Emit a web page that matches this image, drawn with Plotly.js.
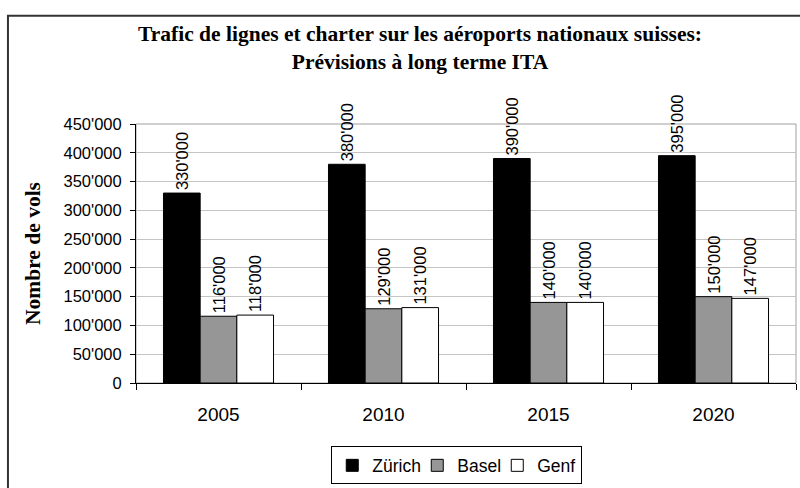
<!DOCTYPE html>
<html>
<head>
<meta charset="utf-8">
<script src="https://cdn.plot.ly/plotly-3.0.1.min.js"></script>
<style>html,body{margin:0;padding:0;background:#fff;}#chart{width:800px;height:488px;}</style>
</head>
<body>
<div id="chart"></div>
<script>
var years = ['2005', '2010', '2015', '2020'];
var zurich = [330000, 380000, 390000, 395000];
var basel = [116000, 129000, 140000, 150000];
var genf = [118000, 131000, 140000, 147000];
var seriesNames = ['Zürich', 'Basel', 'Genf'];
var tickValues = [0, 50000, 100000, 150000, 200000, 250000, 300000, 350000, 400000, 450000];

function fmt(v) { return String(v).replace(/\B(?=(\d{3})+(?!\d))/g, "'"); }

var labelFont = {family: 'Liberation Sans, Arial, sans-serif', size: 16.5, color: '#000'};

function bar(name, vals, color, lw) {
  var t = {
    type: 'bar', name: name, x: years, y: vals,
    marker: {color: color, line: {color: '#000', width: 1}},
    text: vals.map(fmt), textposition: 'outside', textangle: -90,
    textfont: labelFont, cliponaxis: false, constraintext: 'none',
    hoverinfo: 'skip'
  };
  if (lw) t.legendwidth = lw;
  return t;
}

var data = [
  bar(seriesNames[0], zurich, '#000000', 40),
  bar(seriesNames[1], basel, '#969696', 35),
  bar(seriesNames[2], genf, '#ffffff', 0)
];

var layout = {
  width: 800, height: 488,
  margin: {l: 136, r: 4, t: 124, b: 96},
  paper_bgcolor: '#fff', plot_bgcolor: '#fff',
  showlegend: true,
  barmode: 'group', bargap: 0.333, bargroupgap: 0,
  title: {
    text: 'Trafic de lignes et charter sur les aéroports nationaux suisses:<br>Prévisions à long terme ITA',
    font: {family: 'Liberation Serif, Times New Roman, serif', size: 21.5, color: '#000', weight: 'bold'},
    x: 0.525, xanchor: 'center', xref: 'container',
    y: 0.915, yanchor: 'top', yref: 'container'
  },
  xaxis: {
    type: 'category', showline: true, linecolor: '#000', linewidth: 1,
    ticks: 'outside', ticklen: 6, tickcolor: '#000', tickson: 'boundaries',
    tickfont: {family: 'Liberation Sans, Arial, sans-serif', size: 19, color: '#000'},
    ticklabelstandoff: 14, showgrid: false, zeroline: false, fixedrange: true
  },
  yaxis: {
    range: [0, 450000], tickvals: tickValues, ticktext: tickValues.map(fmt),
    showline: true, linecolor: '#000', linewidth: 1,
    ticks: 'outside', ticklen: 5, tickcolor: '#000',
    tickfont: {family: 'Liberation Sans, Arial, sans-serif', size: 16.5, color: '#000'},
    ticklabelstandoff: 5,
    showgrid: true, gridcolor: '#c4c4c4', gridwidth: 1, zeroline: false, fixedrange: true,
    title: {
      text: 'Nombre de vols', standoff: 16,
      font: {family: 'Liberation Serif, Times New Roman, serif', size: 21.5, color: '#000', weight: 'bold'}
    }
  },
  legend: {
    orientation: 'h', x: 0.486, xanchor: 'center', y: -0.245, yanchor: 'top',
    bordercolor: '#000', borderwidth: 1, bgcolor: '#fff',
    font: {family: 'Liberation Sans, Arial, sans-serif', size: 17.5, color: '#000'},
    itemwidth: 30, traceorder: 'normal'
  },
  shapes: [
    {type: 'rect', xref: 'paper', yref: 'paper', x0: 0, x1: 1, y0: 0, y1: 1,
     line: {color: '#a0a0a0', width: 1}, layer: 'below'},
    {type: 'rect', xref: 'paper', yref: 'paper', x0: -0.194, x1: 1.1, y0: -0.5, y1: 1.418,
     line: {color: '#333', width: 2}, layer: 'below'}
  ]
};

Plotly.newPlot('chart', data, layout, {displayModeBar: false, staticPlot: true});
</script>
</body>
</html>
